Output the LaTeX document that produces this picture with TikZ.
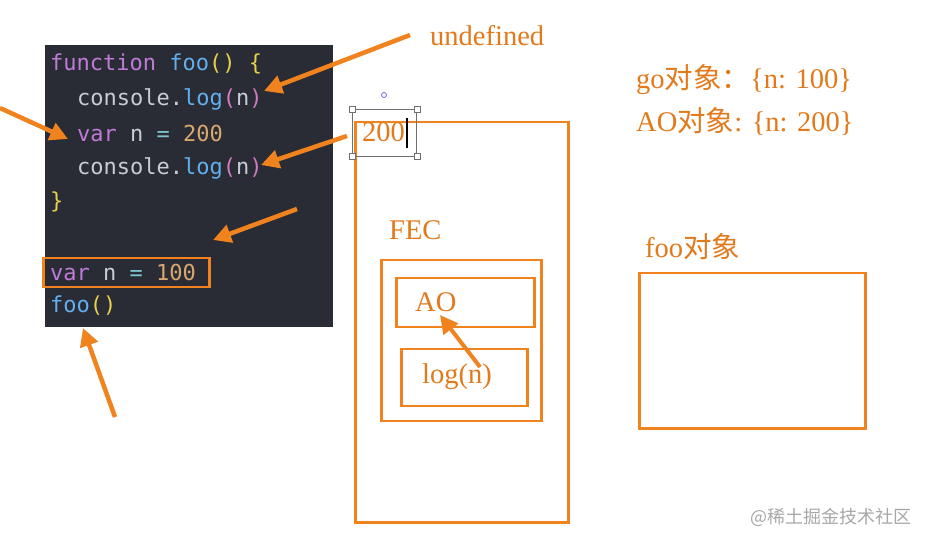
\documentclass[tikz,border=0pt]{standalone}
\usepackage{fontspec}
\setmainfont{Liberation Serif}
\setmonofont{DejaVu Sans Mono}
\newfontfamily\cjk{Noto Sans CJK SC}
\usetikzlibrary{arrows.meta}
\definecolor{org}{HTML}{F0831E}
\definecolor{orgtxt}{HTML}{E27A1C}
\definecolor{panel}{HTML}{2A2C35}
\definecolor{kw}{HTML}{C07AD8}
\definecolor{fn}{HTML}{61AFEF}
\definecolor{br}{HTML}{E8D04A}
\definecolor{pl}{HTML}{C8CCD4}
\definecolor{num}{HTML}{D9A86E}
\definecolor{pn}{HTML}{D07BC0}
\definecolor{eq}{HTML}{7FC6CF}
\definecolor{selgray}{HTML}{707070}
\definecolor{wm}{HTML}{A8A8A8}
\begin{document}
\begin{tikzpicture}[x=1pt,y=-1pt,
  box/.style={draw=org, line width=2.5pt, inner sep=0, anchor=north west},
  arr/.style={draw=org, line width=4.5pt, -{Triangle[length=18pt,width=18pt]}},
  serif/.style={text=orgtxt, font=\fontsize{28.5}{32}\selectfont, inner sep=0, anchor=west},
  code/.style={font=\ttfamily\fontsize{22}{24}\selectfont, inner sep=0, anchor=west, text=pl},
  handle/.style={draw=selgray, fill=white, line width=0.8pt, minimum size=6pt, inner sep=0}]
\useasboundingbox (0,0) rectangle (927,545);
\fill[white] (0,0) rectangle (927,545);
% code panel
\node[fill=panel, minimum width=288, minimum height=282, anchor=north west, inner sep=0] (panel) at (45,45) {};
\node[code] (l1) at (50,64) {\textcolor{kw}{function} \textcolor{fn}{foo}\textcolor{br}{() \{}};
\node[code] (l2) at (77,99) {console.\textcolor{fn}{log}\textcolor{pn}{(}n\textcolor{pn}{)}};
\node[code] (l3) at (77,133) {\textcolor{kw}{var} n \textcolor{eq}{=} \textcolor{num}{200}};
\node[code] (l4) at (77,168) {console.\textcolor{fn}{log}\textcolor{pn}{(}n\textcolor{pn}{)}};
\node[code] (l5) at (50,202) {\textcolor{br}{\}}};
\node[code] (l6) at (50,272) {\textcolor{kw}{var} n \textcolor{eq}{=} \textcolor{num}{100}};
\node[code] (l7) at (50,306) {\textcolor{fn}{foo}\textcolor{br}{()}};
\node[box, minimum width=166, minimum height=29] (vbox) at (42,257) {};
% arrows on code
\coordinate (a1s) at (410,35);  \coordinate (a1e) at (264,91);
\coordinate (a2s) at (0,108);   \coordinate (a2e) at (68,139);
\coordinate (a3s) at (347,136); \coordinate (a3e) at (261,165);
\coordinate (a4s) at (297,209); \coordinate (a4e) at (213,240);
\coordinate (a5s) at (115,417); \coordinate (a5e) at (83,328);
\draw[arr] (a1s) -- (a1e);
\draw[arr] (a2s) -- (a2e);
\draw[arr] (a3s) -- (a3e);
\draw[arr] (a4s) -- (a4e);
\draw[arr] (a5s) -- (a5e);
\node[serif] (undef) at (430,36) {undefined};
% FEC
\node[box, minimum width=213, minimum height=400] (fec) at (354,121) {};
\node[serif] (fect) at (389,230) {FEC};
\node[box, minimum width=160, minimum height=161] (inner) at (380,259) {};
\node[box, minimum width=138, minimum height=49] (ao) at (395,277) {};
\node[serif] (aot) at (415,302) {AO};
\node[box, minimum width=126, minimum height=57] (logb) at (400,348) {};
\node[serif] (logt) at (422,377) {log(n)};
\coordinate (a6s) at (480,367); \coordinate (a6e) at (440,315);
\draw[arr, line width=4pt] (a6s) -- (a6e);
% selection box with 200
\node[draw=selgray, line width=0.9pt, minimum width=64, minimum height=47, anchor=north west, inner sep=0] (sel) at (352,109) {};
\node[serif] (v200) at (362,132) {200};
\draw[black, line width=1.2pt] (407,118) -- (407,148);
\node[handle] (h1) at (sel.north west) {};
\node[handle] (h2) at (sel.north east) {};
\node[handle] (h3) at (sel.south west) {};
\node[handle] (h4) at (sel.south east) {};
\node[draw=blue!60, line width=0.8pt, circle, minimum size=5pt, inner sep=0] (rot) at (384,95) {};
% right side
\node[serif] (go) at (636,80) {go{\cjk 对象：}\{n: 100\}};
\node[serif] (aoo) at (636,121) {AO{\cjk 对象}: \{n: 200\}};
\node[serif] (foot) at (645,247) {foo{\cjk 对象}};
\node[box, minimum width=226, minimum height=155] (foob) at (638,272) {};
% watermark
\node[text=wm, font=\cjk\fontsize{18}{20}\selectfont, inner sep=0, anchor=west] (wmk) at (750,517) {@稀土掘金技术社区};
\end{tikzpicture}
\end{document}
